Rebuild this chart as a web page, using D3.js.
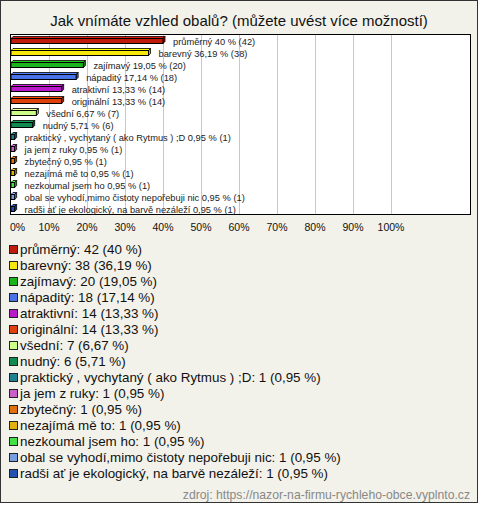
<!DOCTYPE html>
<html><head><meta charset="utf-8">
<script src="https://cdn.jsdelivr.net/npm/d3@7"></script>
<style>body{margin:0;background:#fff}svg{display:block}</style>
</head><body>
<script>
const title = "Jak vnímáte vzhled obalů? (můžete uvést více možností)";
const categories = ["průměrný","barevný","zajímavý","nápaditý","atraktivní","originální","všední","nudný","praktický , vychytaný ( ako Rytmus ) ;D","ja jem z ruky","zbytečný","nezajímá mě to","nezkoumal jsem ho","obal se vyhodí,mimo čistoty nepořebuji nic","radši ať je ekologický, na barvě nezáleží"];
const counts = [42,38,20,18,14,14,7,6,1,1,1,1,1,1,1];
const percents = [40,36.19,19.05,17.14,13.33,13.33,6.67,5.71,0.95,0.95,0.95,0.95,0.95,0.95,0.95];
const colors = ["#c01a0c","#f8e80c","#1cb41c","#4a72e8","#b818c8","#e0400c","#ccff88","#108a50","#1e8090","#c860c8","#e0700c","#e0b00c","#44e044","#78a0e0","#2450b0"];
const ticks = [0,10,20,30,40,50,60,70,80,90,100];
const source = "zdroj: https://nazor-na-firmu-rychleho-obce.vyplnto.cz";

const W = 480, H = 505;
const svg = d3.select("body").append("svg").attr("width", W).attr("height", H);
svg.append("rect").attr("x",0.5).attr("y",0.5).attr("width",477).attr("height",502)
  .attr("fill","#f3f2ea").attr("stroke","#333");

svg.append("text").attr("x",239).attr("y",26).attr("text-anchor","middle")
  .attr("font-family","Liberation Sans, Arial, sans-serif").attr("font-size",15).attr("fill","#111").text(title);

const plot = {x0:10.5, y0:34.5, x1:470.5, y1:214.5};
svg.append("rect").attr("x",plot.x0).attr("y",plot.y0).attr("width",plot.x1-plot.x0).attr("height",plot.y1-plot.y0)
  .attr("fill","#fff").attr("stroke","#000");

const x = d3.scaleLinear().domain([0,100]).range([11,391]);
const y = d3.scaleBand().domain(d3.range(categories.length)).range([35,215]);

svg.append("g").selectAll("line").data(ticks.slice(1)).join("line")
  .attr("x1",d=>Math.round(x(d))+0.5).attr("x2",d=>Math.round(x(d))+0.5)
  .attr("y1",plot.y0+0.5).attr("y2",plot.y1-0.5).attr("stroke","#c8c8c8");

const fmt = v => String(v).replace(".", ",");
const dep = 2;
const bars = svg.append("g").selectAll("g").data(categories).join("g");
bars.each(function(c,i){
  const g = d3.select(this);
  const cy = y(i) + y.bandwidth()/2;
  const x0 = x(0), x1 = x(percents[i]);
  const top = cy - 2.5, h = 5;
  const col = d3.color(colors[i]);
  g.append("path").attr("d",`M${x0},${top}L${x0+dep},${top-dep}L${x1+dep},${top-dep}L${x1},${top}Z`)
    .attr("fill",col.brighter(0.4)).attr("stroke","#000").attr("stroke-width",0.8);
  g.append("path").attr("d",`M${x1},${top}L${x1+dep},${top-dep}L${x1+dep},${top+h-dep}L${x1},${top+h}Z`)
    .attr("fill",col.darker(0.8)).attr("stroke","#000").attr("stroke-width",0.8);
  g.append("rect").attr("x",x0).attr("y",top).attr("width",x1-x0).attr("height",h)
    .attr("fill",colors[i]).attr("stroke","#000").attr("stroke-width",1);
  g.append("text").attr("x",x1+10).attr("y",cy+3.5)
    .attr("font-family","Liberation Sans, Arial, sans-serif").attr("font-size",9.3).attr("fill","#222")
    .text(`${c} ${fmt(percents[i])} % (${counts[i]})`);
});

svg.append("g").selectAll("text").data(ticks).join("text")
  .attr("x",d=>d===0?10:x(d)).attr("y",231)
  .attr("text-anchor",d=>d===0?"start":"middle")
  .attr("font-family","Liberation Sans, Arial, sans-serif").attr("font-size",10.5).attr("fill","#111")
  .text(d=>d+"%");

const leg = svg.append("g").selectAll("g").data(categories).join("g")
  .attr("transform",(d,i)=>`translate(0,${249.5+16*i})`);
leg.append("rect").attr("x",9.5).attr("y",-4).attr("width",8).attr("height",8)
  .attr("fill",(d,i)=>colors[i]).attr("stroke","#222");
leg.append("text").attr("x",20).attr("y",4.5)
  .attr("font-family","Liberation Sans, Arial, sans-serif").attr("font-size",13.4).attr("fill","#111")
  .text((d,i)=>`${d}: ${counts[i]} (${fmt(percents[i])} %)`);

svg.append("text").attr("x",470).attr("y",499).attr("text-anchor","end")
  .attr("font-family","Liberation Sans, Arial, sans-serif").attr("font-size",12.2).attr("fill","#888").text(source);
</script>
</body></html>
